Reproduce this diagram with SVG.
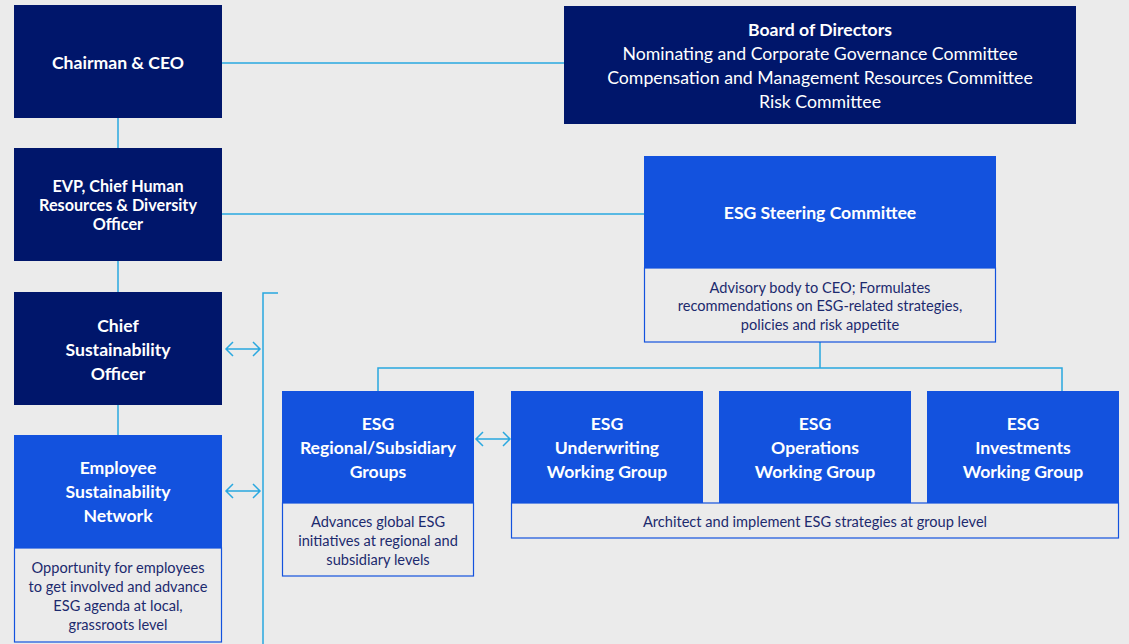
<svg xmlns="http://www.w3.org/2000/svg" width="1129" height="644" viewBox="0 0 1129 644">
<style>
.bg{fill:#ebebeb}
.navy{fill:#00166b}
.blue{fill:#1352de}
.desc{fill:#ebebeb;stroke:#1352de;stroke-width:1.2}
.conn{fill:none;stroke:#29a8e0;stroke-width:1.5}
.arr{fill:none;stroke:#29a8e0;stroke-width:1.5}
text{font-family:Lato,"Noto Sans",sans-serif;text-anchor:middle;dominant-baseline:central}
.t{fill:#ffffff;font-size:17.6px;font-weight:bold}
.tn{fill:#ffffff;font-size:17.7px}
.ts{fill:#ffffff;font-size:16.2px;font-weight:bold}
.d{fill:#1c2a6e;font-size:14.6px}
</style>
<rect class="bg" x="0" y="0" width="1129" height="644"/>
<g id="connectors">
<path class="conn" d="M222 63H564"/>
<path class="conn" d="M118 118V148"/>
<path class="conn" d="M222 214H644"/>
<path class="conn" d="M118 261V292"/>
<path class="conn" d="M118 405V435"/>
<path class="conn" d="M263 644V293H278"/>
<path class="conn" d="M820 342V368M378 391V368H1062V391"/>
<path class="arr" d="M226 349H260M233 342L226 349L233 356M253 342L260 349L253 356"/>
<path class="arr" d="M226 491H260M233 484L226 491L233 498M253 484L260 491L253 498"/>
<path class="arr" d="M476 439H510M483 432L476 439L483 446M503 432L510 439L503 446"/>
</g>
<g id="chairman">
<rect class="navy" x="14" y="5" width="208" height="113"/>
<text class="t" x="118" y="62">Chairman &amp; CEO</text>
</g>
<g id="board">
<rect class="navy" x="564" y="6" width="512" height="118"/>
<text class="t" x="820" y="29">Board of Directors</text>
<text class="tn" x="820" y="53">Nominating and Corporate Governance Committee</text>
<text class="tn" x="820" y="77">Compensation and Management Resources Committee</text>
<text class="tn" x="820" y="101">Risk Committee</text>
</g>
<g id="evp">
<rect class="navy" x="14" y="148" width="208" height="113"/>
<text class="ts" x="118" y="185">EVP, Chief Human</text>
<text class="ts" x="118" y="204">Resources &amp; Diversity</text>
<text class="ts" x="118" y="223">Officer</text>
</g>
<g id="steering">
<rect class="blue" x="644" y="156" width="352" height="112"/>
<text class="t" x="820" y="212">ESG Steering Committee</text>
<rect class="desc" x="644.5" y="268" width="351" height="74"/>
<text class="d" x="820" y="287">Advisory body to CEO; Formulates</text>
<text class="d" x="820" y="305">recommendations on ESG-related strategies,</text>
<text class="d" x="820" y="324">policies and risk appetite</text>
</g>
<g id="cso">
<rect class="navy" x="14" y="292" width="208" height="113"/>
<text class="t" x="118" y="325">Chief</text>
<text class="t" x="118" y="349">Sustainability</text>
<text class="t" x="118" y="373">Officer</text>
</g>
<g id="esn">
<rect class="blue" x="14" y="435" width="208" height="113"/>
<text class="t" x="118" y="467">Employee</text>
<text class="t" x="118" y="491">Sustainability</text>
<text class="t" x="118" y="515">Network</text>
<rect class="desc" x="14.5" y="548" width="207" height="94"/>
<text class="d" x="118" y="567">Opportunity for employees</text>
<text class="d" x="118" y="586">to get involved and advance</text>
<text class="d" x="118" y="605">ESG agenda at local,</text>
<text class="d" x="118" y="624">grassroots level</text>
</g>
<g id="regional">
<rect class="blue" x="282" y="391" width="192" height="112"/>
<text class="t" x="378" y="423">ESG</text>
<text class="t" x="378" y="447">Regional/Subsidiary</text>
<text class="t" x="378" y="471">Groups</text>
<rect class="desc" x="282.5" y="503" width="191" height="73"/>
<text class="d" x="378" y="521">Advances global ESG</text>
<text class="d" x="378" y="540">initiatives at regional and</text>
<text class="d" x="378" y="559">subsidiary levels</text>
</g>
<g id="underwriting">
<rect class="blue" x="511" y="391" width="192" height="112"/>
<text class="t" x="607" y="423">ESG</text>
<text class="t" x="607" y="447">Underwriting</text>
<text class="t" x="607" y="471">Working Group</text>
</g>
<g id="operations">
<rect class="blue" x="719" y="391" width="192" height="112"/>
<text class="t" x="815" y="423">ESG</text>
<text class="t" x="815" y="447">Operations</text>
<text class="t" x="815" y="471">Working Group</text>
</g>
<g id="investments">
<rect class="blue" x="927" y="391" width="192" height="112"/>
<text class="t" x="1023" y="423">ESG</text>
<text class="t" x="1023" y="447">Investments</text>
<text class="t" x="1023" y="471">Working Group</text>
</g>
<g id="groups-desc">
<rect class="desc" x="511.5" y="503" width="607" height="35"/>
<text class="d" x="815" y="521">Architect and implement ESG strategies at group level</text>
</g>
</svg>
